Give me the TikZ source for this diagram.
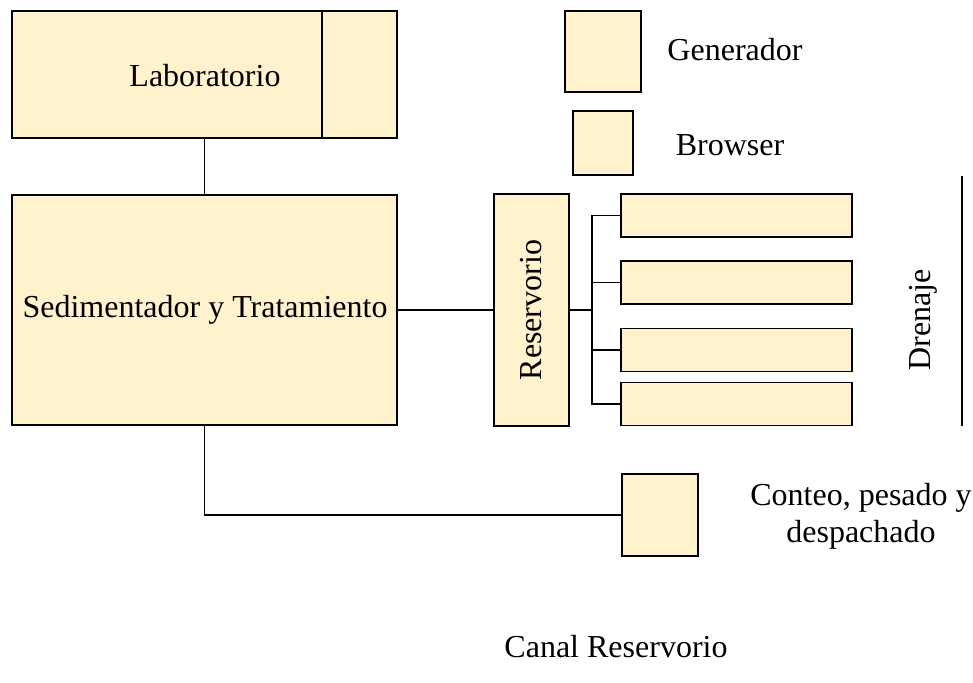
\documentclass[tikz,border=0pt]{standalone}
\usepackage{fontspec}
\setmainfont{Liberation Serif}
\definecolor{boxfill}{HTML}{FFF2CC}
\begin{document}
\begin{tikzpicture}[x=1pt,y=-1pt,
  box/.style={draw=black,fill=boxfill,line width=1.3pt,inner sep=0pt,outer sep=0pt,rectangle},
  lbl/.style={font=\fontsize{32}{37}\selectfont,inner sep=0pt},
  conn/.style={draw=black,line width=1.3pt}]
\useasboundingbox (0,0) rectangle (973,682);
% Laboratorio
\node[box,minimum width=385pt,minimum height=127pt] (lab) at (204.5,74.5) {};
\node[lbl] (labt) at (205,76) {Laboratorio};
\coordinate (labdivt) at (322,11);
\coordinate (labdivb) at (322,138);
\draw[conn] (labdivt) -- (labdivb);
% Sedimentador
\node[box,minimum width=385pt,minimum height=230pt] (sed) at (204.5,310) {};
\node[lbl] (sedt) at (205,310) {Sedimentador y Tratamiento};
% Reservorio
\node[box,minimum width=75pt,minimum height=232pt] (res) at (531.5,310) {};
\node[lbl,rotate=90] (rest) at (531.5,310) {Reservorio};
% right boxes
\node[box,minimum width=231pt,minimum height=43pt] (b1) at (736.5,215.5) {};
\node[box,minimum width=231pt,minimum height=43pt] (b2) at (736.5,282.5) {};
\node[box,minimum width=231pt,minimum height=43pt] (b3) at (736.5,350) {};
\node[box,minimum width=231pt,minimum height=43pt] (b4) at (736.5,404) {};
% Generador / Browser
\node[box,minimum width=76pt,minimum height=81pt] (gen) at (603,51.5) {};
\node[lbl] (gent) at (735,50) {Generador};
\node[box,minimum width=60pt,minimum height=64pt] (bro) at (603,143) {};
\node[lbl] (brot) at (730,145) {Browser};
% Conteo
\node[box,minimum width=76pt,minimum height=82pt] (con) at (660,515) {};
\node[lbl,align=center] (cont) at (861,516) {Conteo, pesado y\\despachado};
% Drenaje
\node[lbl,rotate=90] (dre) at (923,320) {Drenaje};
\coordinate (dtop) at (962,176);
\coordinate (dbot) at (962,426);
\draw[conn] (dtop) -- (dbot);
% Canal
\node[lbl] (canal) at (616,647) {Canal Reservorio};
% connectors
\draw[conn] (lab.south) -- (sed.north);
\draw[conn] (sed.east) -- (res.west);
\coordinate (bus) at (592,310);
\draw[conn] (res.east) -- (bus);
\draw[conn] (bus) |- (b1.west);
\draw[conn] (bus) |- (b2.west);
\draw[conn] (bus) |- (b3.west);
\draw[conn] (bus) |- (b4.west);
\draw[conn] (sed.south) |- (con.west);
\end{tikzpicture}
\end{document}
